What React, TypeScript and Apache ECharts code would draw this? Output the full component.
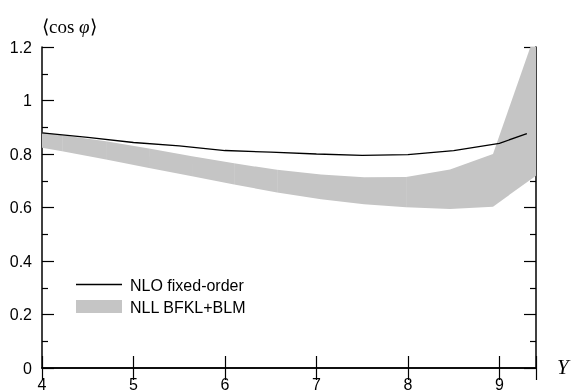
import React, { useEffect, useRef } from "react";
import * as echarts from "echarts";

// NLO fixed-order curve
const nloX = [4.0, 4.5, 5.0, 5.5, 6.0, 6.5, 7.0, 7.5, 8.0, 8.5, 9.0, 9.3];
const nloY = [0.879, 0.862, 0.843, 0.83, 0.813, 0.807, 0.8, 0.795, 0.798, 0.813, 0.84, 0.876];

// NLL BFKL+BLM band
const bandX = [4.0, 4.22, 4.7, 5.17, 5.64, 6.1, 6.57, 7.05, 7.52, 7.98, 8.46, 8.93, 9.4];
const bandLow = [0.823, 0.81, 0.779, 0.748, 0.717, 0.686, 0.656, 0.631, 0.612, 0.601, 0.594, 0.603, 0.719];
const bandHigh = [0.881, 0.87, 0.848, 0.821, 0.792, 0.765, 0.741, 0.723, 0.713, 0.714, 0.742, 0.8, 1.26];

const xTicks = [4, 5, 6, 7, 8, 9];
const yTicks = [0, 0.2, 0.4, 0.6, 0.8, 1, 1.2];

const legendNames = ["NLO fixed-order", "NLL BFKL+BLM"];

const FONT = "Liberation Sans";

export default function App() {
  const ref = useRef<HTMLDivElement>(null);
  useEffect(() => {
    if (!ref.current) return;
    const chart = echarts.init(ref.current, null, { renderer: "svg" });
    const axisLine = { show: true, lineStyle: { color: "#000", width: 1.5 } };
    const tick = { show: true, inside: true, length: 12, lineStyle: { color: "#000", width: 1.2 } };
    const minor = { show: true, splitNumber: 2, length: 6, lineStyle: { color: "#000", width: 1.2 } };
    const xBase = {
      type: "value",
      min: xTicks[0],
      max: 9.4,
      interval: 1,
      axisLine,
      axisTick: tick,
      splitLine: { show: false },
    };
    const yBase = {
      type: "value",
      min: yTicks[0],
      max: yTicks[yTicks.length - 1],
      interval: 0.2,
      axisLine,
      axisTick: tick,
      minorTick: minor,
      splitLine: { show: false },
      minorSplitLine: { show: false },
    };
    const bandData = bandX.slice(0, -1).map((x, i) => [x, bandLow[i], bandHigh[i]]);
    chart.setOption({
      animation: false,
      grid: { left: 42, right: 37, top: 47, bottom: 23 },
      xAxis: [
        {
          ...xBase,
          position: "bottom",
          axisLabel: {
            color: "#000",
            fontFamily: FONT,
            fontSize: 16,
            margin: 8,
            formatter: (v: number) => (xTicks.includes(v) ? String(v) : ""),
          },
        },
        { ...xBase, position: "top", axisLabel: { show: false } },
      ],
      yAxis: [
        {
          ...yBase,
          position: "left",
          axisLabel: {
            color: "#000",
            fontFamily: FONT,
            fontSize: 16,
            margin: 10,
            formatter: (v: number) => String(Math.round(v * 10) / 10),
          },
        },
        { ...yBase, position: "right", axisLabel: { show: false } },
      ],
      series: [
        {
          name: legendNames[1],
          type: "custom",
          clip: true,
          xAxisIndex: 0,
          yAxisIndex: 0,
          data: bandData,
          encode: { x: 0, y: [1, 2] },
          renderItem: (params: any, api: any) => {
            const i = params.dataIndex;
            const pts = [
              api.coord([bandX[i], bandLow[i]]),
              api.coord([bandX[i + 1], bandLow[i + 1]]),
              api.coord([bandX[i + 1], bandHigh[i + 1]]),
              api.coord([bandX[i], bandHigh[i]]),
            ];
            return {
              type: "polygon",
              shape: { points: pts },
              style: { fill: "#c5c5c5", stroke: "none" },
            };
          },
          z: 1,
        },
        {
          name: legendNames[0],
          type: "line",
          data: nloX.map((x, i) => [x, nloY[i]]),
          showSymbol: false,
          symbol: "none",
          lineStyle: { color: "#000", width: 1.3 },
          z: 3,
        },
      ],
      graphic: [
        {
          type: "text",
          x: 42,
          y: 26,
          style: {
            text: "⟨cos {i|φ}⟩",
            fontFamily: "Liberation Serif",
            fontSize: 19,
            fill: "#000",
            align: "left",
            verticalAlign: "middle",
            rich: {
              i: { fontFamily: "Liberation Serif", fontStyle: "italic", fontSize: 19, fill: "#000" },
            },
          },
        },
        {
          type: "text",
          x: 557,
          y: 367,
          style: {
            text: "Y",
            fontFamily: "Liberation Serif",
            fontStyle: "italic",
            fontSize: 21,
            fill: "#000",
            align: "left",
            verticalAlign: "middle",
          },
        },
        {
          type: "line",
          shape: { x1: 76, y1: 284.5, x2: 122, y2: 284.5 },
          style: { stroke: "#000", lineWidth: 1.3 },
        },
        {
          type: "rect",
          shape: { x: 76, y: 300, width: 46, height: 13 },
          style: { fill: "#c5c5c5" },
        },
        {
          type: "text",
          x: 130,
          y: 285,
          style: {
            text: legendNames[0],
            fontFamily: FONT,
            fontSize: 16,
            fill: "#000",
            verticalAlign: "middle",
          },
        },
        {
          type: "text",
          x: 130,
          y: 307,
          style: {
            text: legendNames[1],
            fontFamily: FONT,
            fontSize: 16,
            fill: "#000",
            verticalAlign: "middle",
          },
        },
      ],
    });
    return () => chart.dispose();
  }, []);
  return <div ref={ref} style={{ width: 573, height: 392, position: "fixed", left: 0, top: 0 }} />;
}
